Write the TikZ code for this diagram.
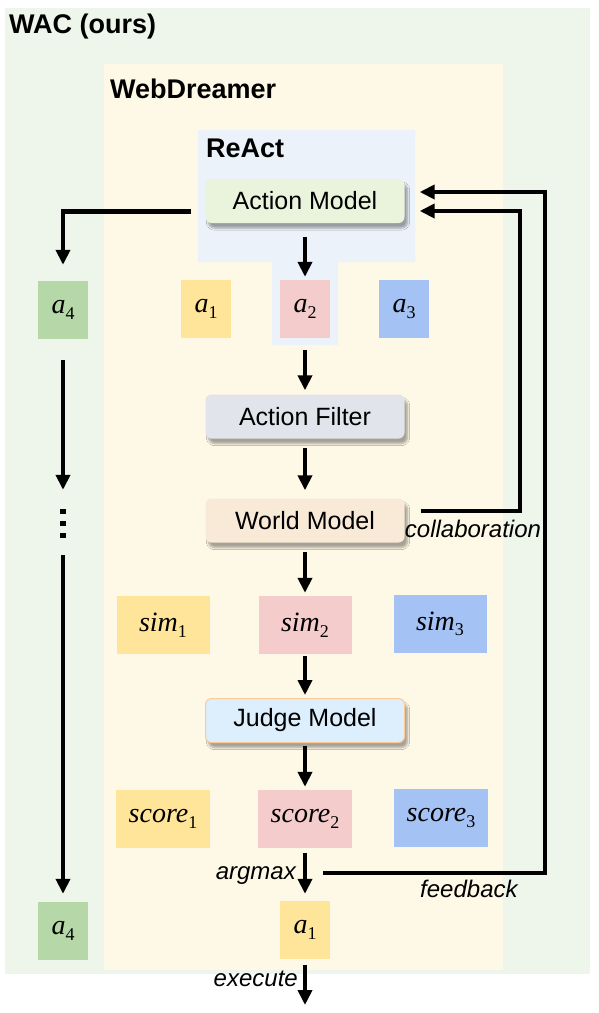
\documentclass[tikz,border=0pt]{standalone}
\usepackage{fontspec}
\setmainfont{Liberation Sans}
\newfontfamily\candfont{Liberation Serif}
\usetikzlibrary{arrows.meta,shadows.blur}
\definecolor{wacgreen}{HTML}{EEF5EA}
\definecolor{dreamyellow}{HTML}{FEF8E6}
\definecolor{reactblue}{HTML}{EBF2FA}
\definecolor{amgreen}{HTML}{EAF3DC}
\definecolor{afgrey}{HTML}{E1E4EA}
\definecolor{wmpeach}{HTML}{F9EAD8}
\definecolor{jmblue}{HTML}{DDEEFC}
\definecolor{tyellow}{HTML}{FFE599}
\definecolor{tpink}{HTML}{F4CCCC}
\definecolor{tblue}{HTML}{A4C2F4}
\definecolor{tgreen}{HTML}{B6D7A8}
% candidate label: italic name with a lowered index
\newcommand\cand[2]{{\itshape #1}\raisebox{-5.5pt}{\fontsize{18}{18}\selectfont #2}}
\tikzset{
  model/.style = {rectangle, rounded corners=6pt, minimum width=199pt,
                  minimum height=44pt, inner sep=0pt,
                  font=\fontsize{25}{30}\selectfont,
                  blur shadow={shadow xshift=3pt, shadow yshift=-5pt,
                               shadow blur steps=6, shadow opacity=35}},
  tile/.style = {rectangle, minimum width=#1, minimum height=58pt,
                 inner sep=0pt, font=\candfont\fontsize{28}{30}\selectfont},
  tile/.default = 50pt,
  arr/.style = {line width=4.5pt, -{Triangle[length=15pt,width=14pt]}},
  lbl/.style = {font=\fontsize{24}{28}\selectfont\itshape, inner sep=0pt},
  title/.style = {font=\fontsize{27}{30}\selectfont\bfseries,
                  inner sep=0pt, anchor=base west}
}

\begin{document}
\begin{tikzpicture}[x=1pt, y=-1pt]
	\def \col{305}
	\useasboundingbox (0,0) rectangle (598,1013);

	% Frames
	\fill[wacgreen] (5,8) rectangle (590,974);
	\fill[dreamyellow] (104,64) rectangle (503,970);
	\fill[reactblue] (198,130) -- (415,130) -- (415,262) -- (338,262) -- (338,345)
	                 -- (272,345) -- (272,262) -- (198,262) -- cycle;
	\node[title] (wac) at (9,33) {WAC (ours)};
	\node[title] (wd) at (110,98) {WebDreamer};
	\node[title] (react) at (206,157) {ReAct};

	% Models
	\node[model, fill=amgreen] (am) at (\col,201) {Action Model};
	\node[model, fill=afgrey] (af) at (\col,416.5) {Action Filter};
	\node[model, fill=wmpeach] (wm) at (\col,520.5) {World Model};
	\node[model, fill=jmblue, draw=wmpeach!70!orange, line width=1pt] (jm) at (\col,720.5) {Judge Model};

	% Candidates
	\node[tile, fill=tgreen] (a4top) at (63,310) {\cand{a}{4}};
	\node[tile, fill=tyellow] (a1) at (206,309) {\cand{a}{1}};
	\node[tile, fill=tpink] (a2) at (\col,309) {\cand{a}{2}};
	\node[tile, fill=tblue] (a3) at (404,309) {\cand{a}{3}};
	\node[tile=93pt, fill=tyellow] (sim1) at (163,625) {\cand{sim}{1}};
	\node[tile=93pt, fill=tpink] (sim2) at (\col,625) {\cand{sim}{2}};
	\node[tile=93pt, fill=tblue] (sim3) at (440,624) {\cand{sim}{3}};
	\node[tile=94pt, fill=tyellow] (sc1) at (163,819) {\cand{score}{1}};
	\node[tile=94pt, fill=tpink] (sc2) at (\col,819) {\cand{score}{2}};
	\node[tile=94pt, fill=tblue] (sc3) at (441,818) {\cand{score}{3}};
	\node[tile, fill=tyellow] (a1out) at (\col,930) {\cand{a}{1}};
	\node[tile, fill=tgreen] (a4bot) at (63,931) {\cand{a}{4}};

	% Dots
	\node[minimum width=6pt, minimum height=40pt, inner sep=0pt] (dots) at (63,522) {};
	\foreach \y in {511,523,535}
		\fill (60.3,\y-2.5) rectangle ++(5.5,5);
	\coordinate (out) at (\col,1005);

	% Main flow
	\draw[arr, shorten <=14pt, shorten >=3pt] (am) -- (a2);
	\draw[arr, shorten <=12pt, shorten >=4pt] (a2) -- (af);
	\draw[arr, shorten <=9pt, shorten >=8pt] (af) -- (wm);
	\draw[arr, shorten <=9pt, shorten >=3pt] (wm) -- (sim2);
	\draw[arr, shorten <=2pt, shorten >=3pt] (sim2) -- (jm);
	\draw[arr, shorten <=3pt, shorten >=3pt] (jm) -- (sc2);
	\draw[arr, shorten <=5pt, shorten >=7pt] (sc2) -- (a1out);
	\draw[arr, shorten <=6pt] (a1out) -- (out);

	% Left column
	\draw[arr, shorten <=14pt, shorten >=16pt] ([yshift=-10.5pt]am.west) -| (a4top.north);
	\draw[arr, shorten <=21pt, shorten >=12pt] (a4top) -- (dots);
	\draw[arr, shorten <=13pt, shorten >=8pt] (dots) -- (a4bot);

	% Collaboration and feedback
	\coordinate (collab) at (520,211);
	\coordinate (fbtop) at (545,192);
	\coordinate (fbstart) at (323,873);
	\draw[arr] ([xshift=16pt,yshift=9.5pt]wm.east) -| (collab) -- ([xshift=15pt,yshift=-10pt]am.east);
	\draw[arr] (fbstart) -| (fbtop) -- ([xshift=15pt,yshift=9pt]am.east);

	% Labels
	\node[lbl, anchor=base] (collabtxt) at (473,537) {collaboration};
	\node[lbl, anchor=base west] (fbtxt) at (420,897) {feedback};
	\node[lbl, anchor=base east] (argmax) at (296,879) {argmax};
	\node[lbl, anchor=base east] (exec) at (298,986) {execute};
\end{tikzpicture}
\end{document}
